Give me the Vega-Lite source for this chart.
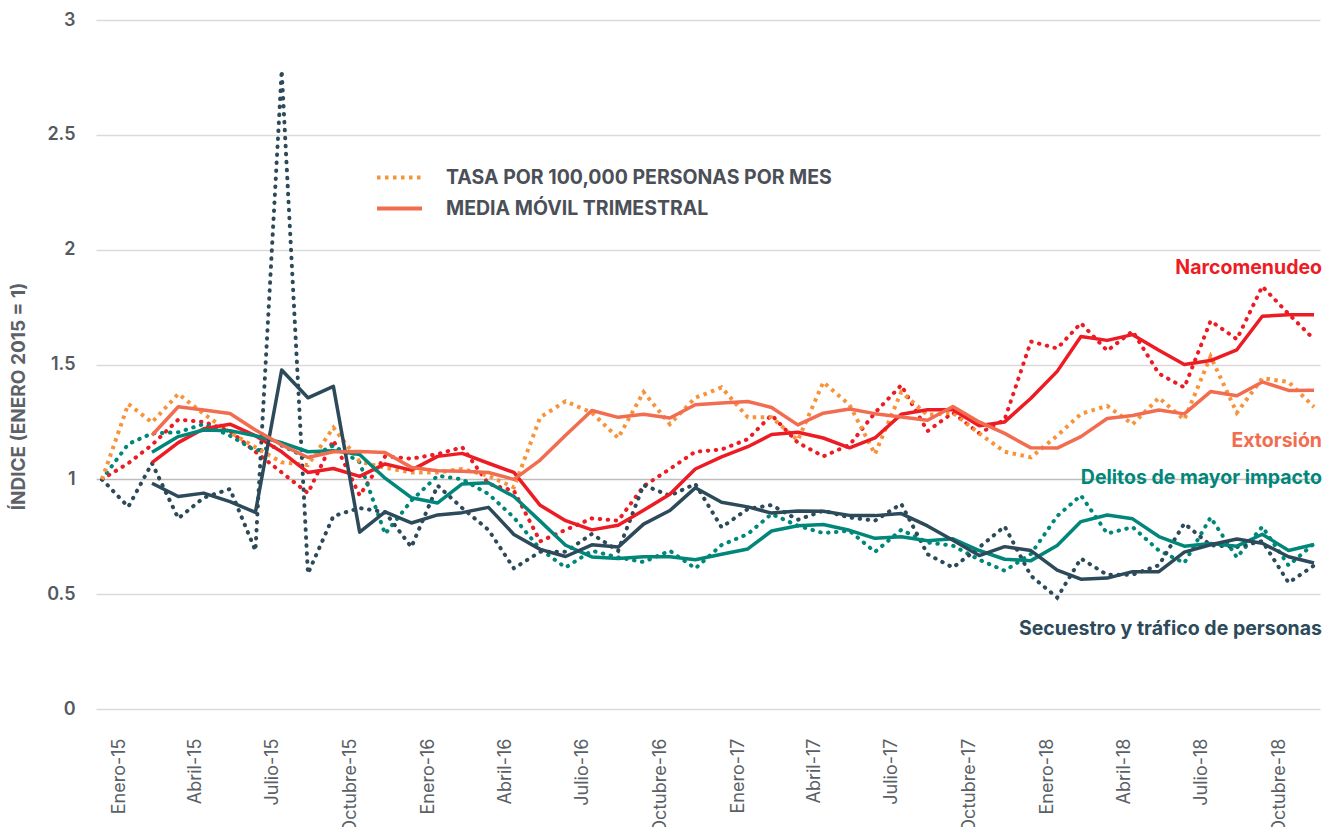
{
"$schema": "https://vega.github.io/schema/vega-lite/v6.json",
"width": 1224,
"height": 689,
"autosize": {"type": "none"},
"padding": {"left": 96, "top": 20, "right": 9, "bottom": 118},
"background": "#ffffff",
"config": {"view": {"stroke": null}, "font": "Inter"},
"datasets": {
"datos": [
{"mes":"2015-01","serie":"Narcomenudeo","tipo":"tasa","valor":1},
{"mes":"2015-02","serie":"Narcomenudeo","tipo":"tasa","valor":1.07},
{"mes":"2015-03","serie":"Narcomenudeo","tipo":"tasa","valor":1.15},
{"mes":"2015-04","serie":"Narcomenudeo","tipo":"tasa","valor":1.26},
{"mes":"2015-05","serie":"Narcomenudeo","tipo":"tasa","valor":1.25},
{"mes":"2015-06","serie":"Narcomenudeo","tipo":"tasa","valor":1.21},
{"mes":"2015-07","serie":"Narcomenudeo","tipo":"tasa","valor":1.12},
{"mes":"2015-08","serie":"Narcomenudeo","tipo":"tasa","valor":1.03},
{"mes":"2015-09","serie":"Narcomenudeo","tipo":"tasa","valor":0.94},
{"mes":"2015-10","serie":"Narcomenudeo","tipo":"tasa","valor":1.17},
{"mes":"2015-11","serie":"Narcomenudeo","tipo":"tasa","valor":0.93},
{"mes":"2015-12","serie":"Narcomenudeo","tipo":"tasa","valor":1.10},
{"mes":"2016-01","serie":"Narcomenudeo","tipo":"tasa","valor":1.09},
{"mes":"2016-02","serie":"Narcomenudeo","tipo":"tasa","valor":1.11},
{"mes":"2016-03","serie":"Narcomenudeo","tipo":"tasa","valor":1.14},
{"mes":"2016-04","serie":"Narcomenudeo","tipo":"tasa","valor":0.98},
{"mes":"2016-05","serie":"Narcomenudeo","tipo":"tasa","valor":0.95},
{"mes":"2016-06","serie":"Narcomenudeo","tipo":"tasa","valor":0.73},
{"mes":"2016-07","serie":"Narcomenudeo","tipo":"tasa","valor":0.78},
{"mes":"2016-08","serie":"Narcomenudeo","tipo":"tasa","valor":0.83},
{"mes":"2016-09","serie":"Narcomenudeo","tipo":"tasa","valor":0.82},
{"mes":"2016-10","serie":"Narcomenudeo","tipo":"tasa","valor":0.97},
{"mes":"2016-11","serie":"Narcomenudeo","tipo":"tasa","valor":1.045},
{"mes":"2016-12","serie":"Narcomenudeo","tipo":"tasa","valor":1.12},
{"mes":"2017-01","serie":"Narcomenudeo","tipo":"tasa","valor":1.13},
{"mes":"2017-02","serie":"Narcomenudeo","tipo":"tasa","valor":1.175},
{"mes":"2017-03","serie":"Narcomenudeo","tipo":"tasa","valor":1.28},
{"mes":"2017-04","serie":"Narcomenudeo","tipo":"tasa","valor":1.16},
{"mes":"2017-05","serie":"Narcomenudeo","tipo":"tasa","valor":1.10},
{"mes":"2017-06","serie":"Narcomenudeo","tipo":"tasa","valor":1.15},
{"mes":"2017-07","serie":"Narcomenudeo","tipo":"tasa","valor":1.29},
{"mes":"2017-08","serie":"Narcomenudeo","tipo":"tasa","valor":1.41},
{"mes":"2017-09","serie":"Narcomenudeo","tipo":"tasa","valor":1.21},
{"mes":"2017-10","serie":"Narcomenudeo","tipo":"tasa","valor":1.29},
{"mes":"2017-11","serie":"Narcomenudeo","tipo":"tasa","valor":1.20},
{"mes":"2017-12","serie":"Narcomenudeo","tipo":"tasa","valor":1.26},
{"mes":"2018-01","serie":"Narcomenudeo","tipo":"tasa","valor":1.60},
{"mes":"2018-02","serie":"Narcomenudeo","tipo":"tasa","valor":1.57},
{"mes":"2018-03","serie":"Narcomenudeo","tipo":"tasa","valor":1.68},
{"mes":"2018-04","serie":"Narcomenudeo","tipo":"tasa","valor":1.56},
{"mes":"2018-05","serie":"Narcomenudeo","tipo":"tasa","valor":1.645},
{"mes":"2018-06","serie":"Narcomenudeo","tipo":"tasa","valor":1.46},
{"mes":"2018-07","serie":"Narcomenudeo","tipo":"tasa","valor":1.40},
{"mes":"2018-08","serie":"Narcomenudeo","tipo":"tasa","valor":1.69},
{"mes":"2018-09","serie":"Narcomenudeo","tipo":"tasa","valor":1.61},
{"mes":"2018-10","serie":"Narcomenudeo","tipo":"tasa","valor":1.84},
{"mes":"2018-11","serie":"Narcomenudeo","tipo":"tasa","valor":1.72},
{"mes":"2018-12","serie":"Narcomenudeo","tipo":"tasa","valor":1.61},
{"mes":"2015-03","serie":"Narcomenudeo","tipo":"media","valor":1.073},
{"mes":"2015-04","serie":"Narcomenudeo","tipo":"media","valor":1.16},
{"mes":"2015-05","serie":"Narcomenudeo","tipo":"media","valor":1.22},
{"mes":"2015-06","serie":"Narcomenudeo","tipo":"media","valor":1.24},
{"mes":"2015-07","serie":"Narcomenudeo","tipo":"media","valor":1.19},
{"mes":"2015-08","serie":"Narcomenudeo","tipo":"media","valor":1.12},
{"mes":"2015-09","serie":"Narcomenudeo","tipo":"media","valor":1.03},
{"mes":"2015-10","serie":"Narcomenudeo","tipo":"media","valor":1.047},
{"mes":"2015-11","serie":"Narcomenudeo","tipo":"media","valor":1.013},
{"mes":"2015-12","serie":"Narcomenudeo","tipo":"media","valor":1.067},
{"mes":"2016-01","serie":"Narcomenudeo","tipo":"media","valor":1.04},
{"mes":"2016-02","serie":"Narcomenudeo","tipo":"media","valor":1.10},
{"mes":"2016-03","serie":"Narcomenudeo","tipo":"media","valor":1.113},
{"mes":"2016-04","serie":"Narcomenudeo","tipo":"media","valor":1.07},
{"mes":"2016-05","serie":"Narcomenudeo","tipo":"media","valor":1.03},
{"mes":"2016-06","serie":"Narcomenudeo","tipo":"media","valor":0.887},
{"mes":"2016-07","serie":"Narcomenudeo","tipo":"media","valor":0.82},
{"mes":"2016-08","serie":"Narcomenudeo","tipo":"media","valor":0.78},
{"mes":"2016-09","serie":"Narcomenudeo","tipo":"media","valor":0.80},
{"mes":"2016-10","serie":"Narcomenudeo","tipo":"media","valor":0.865},
{"mes":"2016-11","serie":"Narcomenudeo","tipo":"media","valor":0.935},
{"mes":"2016-12","serie":"Narcomenudeo","tipo":"media","valor":1.045},
{"mes":"2017-01","serie":"Narcomenudeo","tipo":"media","valor":1.098},
{"mes":"2017-02","serie":"Narcomenudeo","tipo":"media","valor":1.142},
{"mes":"2017-03","serie":"Narcomenudeo","tipo":"media","valor":1.195},
{"mes":"2017-04","serie":"Narcomenudeo","tipo":"media","valor":1.205},
{"mes":"2017-05","serie":"Narcomenudeo","tipo":"media","valor":1.18},
{"mes":"2017-06","serie":"Narcomenudeo","tipo":"media","valor":1.137},
{"mes":"2017-07","serie":"Narcomenudeo","tipo":"media","valor":1.18},
{"mes":"2017-08","serie":"Narcomenudeo","tipo":"media","valor":1.283},
{"mes":"2017-09","serie":"Narcomenudeo","tipo":"media","valor":1.303},
{"mes":"2017-10","serie":"Narcomenudeo","tipo":"media","valor":1.303},
{"mes":"2017-11","serie":"Narcomenudeo","tipo":"media","valor":1.233},
{"mes":"2017-12","serie":"Narcomenudeo","tipo":"media","valor":1.25},
{"mes":"2018-01","serie":"Narcomenudeo","tipo":"media","valor":1.353},
{"mes":"2018-02","serie":"Narcomenudeo","tipo":"media","valor":1.47},
{"mes":"2018-03","serie":"Narcomenudeo","tipo":"media","valor":1.622},
{"mes":"2018-04","serie":"Narcomenudeo","tipo":"media","valor":1.605},
{"mes":"2018-05","serie":"Narcomenudeo","tipo":"media","valor":1.63},
{"mes":"2018-06","serie":"Narcomenudeo","tipo":"media","valor":1.562},
{"mes":"2018-07","serie":"Narcomenudeo","tipo":"media","valor":1.50},
{"mes":"2018-08","serie":"Narcomenudeo","tipo":"media","valor":1.517},
{"mes":"2018-09","serie":"Narcomenudeo","tipo":"media","valor":1.564},
{"mes":"2018-10","serie":"Narcomenudeo","tipo":"media","valor":1.71},
{"mes":"2018-11","serie":"Narcomenudeo","tipo":"media","valor":1.717},
{"mes":"2018-12","serie":"Narcomenudeo","tipo":"media","valor":1.717},
{"mes":"2015-01","serie":"Extorsión","tipo":"tasa","valor":1},
{"mes":"2015-02","serie":"Extorsión","tipo":"tasa","valor":1.328},
{"mes":"2015-03","serie":"Extorsión","tipo":"tasa","valor":1.248},
{"mes":"2015-04","serie":"Extorsión","tipo":"tasa","valor":1.372},
{"mes":"2015-05","serie":"Extorsión","tipo":"tasa","valor":1.285},
{"mes":"2015-06","serie":"Extorsión","tipo":"tasa","valor":1.205},
{"mes":"2015-07","serie":"Extorsión","tipo":"tasa","valor":1.14},
{"mes":"2015-08","serie":"Extorsión","tipo":"tasa","valor":1.074},
{"mes":"2015-09","serie":"Extorsión","tipo":"tasa","valor":1.062},
{"mes":"2015-10","serie":"Extorsión","tipo":"tasa","valor":1.225},
{"mes":"2015-11","serie":"Extorsión","tipo":"tasa","valor":1.077},
{"mes":"2015-12","serie":"Extorsión","tipo":"tasa","valor":1.05},
{"mes":"2016-01","serie":"Extorsión","tipo":"tasa","valor":1.03},
{"mes":"2016-02","serie":"Extorsión","tipo":"tasa","valor":1.03},
{"mes":"2016-03","serie":"Extorsión","tipo":"tasa","valor":1.045},
{"mes":"2016-04","serie":"Extorsión","tipo":"tasa","valor":1.016},
{"mes":"2016-05","serie":"Extorsión","tipo":"tasa","valor":0.965},
{"mes":"2016-06","serie":"Extorsión","tipo":"tasa","valor":1.27},
{"mes":"2016-07","serie":"Extorsión","tipo":"tasa","valor":1.34},
{"mes":"2016-08","serie":"Extorsión","tipo":"tasa","valor":1.29},
{"mes":"2016-09","serie":"Extorsión","tipo":"tasa","valor":1.18},
{"mes":"2016-10","serie":"Extorsión","tipo":"tasa","valor":1.38},
{"mes":"2016-11","serie":"Extorsión","tipo":"tasa","valor":1.24},
{"mes":"2016-12","serie":"Extorsión","tipo":"tasa","valor":1.355},
{"mes":"2017-01","serie":"Extorsión","tipo":"tasa","valor":1.40},
{"mes":"2017-02","serie":"Extorsión","tipo":"tasa","valor":1.27},
{"mes":"2017-03","serie":"Extorsión","tipo":"tasa","valor":1.27},
{"mes":"2017-04","serie":"Extorsión","tipo":"tasa","valor":1.17},
{"mes":"2017-05","serie":"Extorsión","tipo":"tasa","valor":1.423},
{"mes":"2017-06","serie":"Extorsión","tipo":"tasa","valor":1.324},
{"mes":"2017-07","serie":"Extorsión","tipo":"tasa","valor":1.11},
{"mes":"2017-08","serie":"Extorsión","tipo":"tasa","valor":1.38},
{"mes":"2017-09","serie":"Extorsión","tipo":"tasa","valor":1.28},
{"mes":"2017-10","serie":"Extorsión","tipo":"tasa","valor":1.29},
{"mes":"2017-11","serie":"Extorsión","tipo":"tasa","valor":1.20},
{"mes":"2017-12","serie":"Extorsión","tipo":"tasa","valor":1.12},
{"mes":"2018-01","serie":"Extorsión","tipo":"tasa","valor":1.096},
{"mes":"2018-02","serie":"Extorsión","tipo":"tasa","valor":1.19},
{"mes":"2018-03","serie":"Extorsión","tipo":"tasa","valor":1.285},
{"mes":"2018-04","serie":"Extorsión","tipo":"tasa","valor":1.32},
{"mes":"2018-05","serie":"Extorsión","tipo":"tasa","valor":1.24},
{"mes":"2018-06","serie":"Extorsión","tipo":"tasa","valor":1.355},
{"mes":"2018-07","serie":"Extorsión","tipo":"tasa","valor":1.26},
{"mes":"2018-08","serie":"Extorsión","tipo":"tasa","valor":1.535},
{"mes":"2018-09","serie":"Extorsión","tipo":"tasa","valor":1.29},
{"mes":"2018-10","serie":"Extorsión","tipo":"tasa","valor":1.44},
{"mes":"2018-11","serie":"Extorsión","tipo":"tasa","valor":1.424},
{"mes":"2018-12","serie":"Extorsión","tipo":"tasa","valor":1.315},
{"mes":"2015-03","serie":"Extorsión","tipo":"media","valor":1.192},
{"mes":"2015-04","serie":"Extorsión","tipo":"media","valor":1.316},
{"mes":"2015-05","serie":"Extorsión","tipo":"media","valor":1.302},
{"mes":"2015-06","serie":"Extorsión","tipo":"media","valor":1.287},
{"mes":"2015-07","serie":"Extorsión","tipo":"media","valor":1.215},
{"mes":"2015-08","serie":"Extorsión","tipo":"media","valor":1.15},
{"mes":"2015-09","serie":"Extorsión","tipo":"media","valor":1.095},
{"mes":"2015-10","serie":"Extorsión","tipo":"media","valor":1.12},
{"mes":"2015-11","serie":"Extorsión","tipo":"media","valor":1.121},
{"mes":"2015-12","serie":"Extorsión","tipo":"media","valor":1.117},
{"mes":"2016-01","serie":"Extorsión","tipo":"media","valor":1.052},
{"mes":"2016-02","serie":"Extorsión","tipo":"media","valor":1.037},
{"mes":"2016-03","serie":"Extorsión","tipo":"media","valor":1.035},
{"mes":"2016-04","serie":"Extorsión","tipo":"media","valor":1.03},
{"mes":"2016-05","serie":"Extorsión","tipo":"media","valor":1.0},
{"mes":"2016-06","serie":"Extorsión","tipo":"media","valor":1.084},
{"mes":"2016-07","serie":"Extorsión","tipo":"media","valor":1.192},
{"mes":"2016-08","serie":"Extorsión","tipo":"media","valor":1.30},
{"mes":"2016-09","serie":"Extorsión","tipo":"media","valor":1.27},
{"mes":"2016-10","serie":"Extorsión","tipo":"media","valor":1.283},
{"mes":"2016-11","serie":"Extorsión","tipo":"media","valor":1.267},
{"mes":"2016-12","serie":"Extorsión","tipo":"media","valor":1.325},
{"mes":"2017-01","serie":"Extorsión","tipo":"media","valor":1.332},
{"mes":"2017-02","serie":"Extorsión","tipo":"media","valor":1.339},
{"mes":"2017-03","serie":"Extorsión","tipo":"media","valor":1.313},
{"mes":"2017-04","serie":"Extorsión","tipo":"media","valor":1.237},
{"mes":"2017-05","serie":"Extorsión","tipo":"media","valor":1.288},
{"mes":"2017-06","serie":"Extorsión","tipo":"media","valor":1.306},
{"mes":"2017-07","serie":"Extorsión","tipo":"media","valor":1.286},
{"mes":"2017-08","serie":"Extorsión","tipo":"media","valor":1.271},
{"mes":"2017-09","serie":"Extorsión","tipo":"media","valor":1.257},
{"mes":"2017-10","serie":"Extorsión","tipo":"media","valor":1.317},
{"mes":"2017-11","serie":"Extorsión","tipo":"media","valor":1.25},
{"mes":"2017-12","serie":"Extorsión","tipo":"media","valor":1.2},
{"mes":"2018-01","serie":"Extorsión","tipo":"media","valor":1.137},
{"mes":"2018-02","serie":"Extorsión","tipo":"media","valor":1.136},
{"mes":"2018-03","serie":"Extorsión","tipo":"media","valor":1.186},
{"mes":"2018-04","serie":"Extorsión","tipo":"media","valor":1.265},
{"mes":"2018-05","serie":"Extorsión","tipo":"media","valor":1.278},
{"mes":"2018-06","serie":"Extorsión","tipo":"media","valor":1.302},
{"mes":"2018-07","serie":"Extorsión","tipo":"media","valor":1.285},
{"mes":"2018-08","serie":"Extorsión","tipo":"media","valor":1.382},
{"mes":"2018-09","serie":"Extorsión","tipo":"media","valor":1.364},
{"mes":"2018-10","serie":"Extorsión","tipo":"media","valor":1.424},
{"mes":"2018-11","serie":"Extorsión","tipo":"media","valor":1.387},
{"mes":"2018-12","serie":"Extorsión","tipo":"media","valor":1.388},
{"mes":"2015-01","serie":"Delitos","tipo":"tasa","valor":1},
{"mes":"2015-02","serie":"Delitos","tipo":"tasa","valor":1.154},
{"mes":"2015-03","serie":"Delitos","tipo":"tasa","valor":1.20},
{"mes":"2015-04","serie":"Delitos","tipo":"tasa","valor":1.205},
{"mes":"2015-05","serie":"Delitos","tipo":"tasa","valor":1.241},
{"mes":"2015-06","serie":"Delitos","tipo":"tasa","valor":1.19},
{"mes":"2015-07","serie":"Delitos","tipo":"tasa","valor":1.125},
{"mes":"2015-08","serie":"Delitos","tipo":"tasa","valor":1.147},
{"mes":"2015-09","serie":"Delitos","tipo":"tasa","valor":1.092},
{"mes":"2015-10","serie":"Delitos","tipo":"tasa","valor":1.147},
{"mes":"2015-11","serie":"Delitos","tipo":"tasa","valor":1.074},
{"mes":"2015-12","serie":"Delitos","tipo":"tasa","valor":0.762},
{"mes":"2016-01","serie":"Delitos","tipo":"tasa","valor":0.907},
{"mes":"2016-02","serie":"Delitos","tipo":"tasa","valor":1.016},
{"mes":"2016-03","serie":"Delitos","tipo":"tasa","valor":1.0},
{"mes":"2016-04","serie":"Delitos","tipo":"tasa","valor":0.936},
{"mes":"2016-05","serie":"Delitos","tipo":"tasa","valor":0.834},
{"mes":"2016-06","serie":"Delitos","tipo":"tasa","valor":0.696},
{"mes":"2016-07","serie":"Delitos","tipo":"tasa","valor":0.616},
{"mes":"2016-08","serie":"Delitos","tipo":"tasa","valor":0.689},
{"mes":"2016-09","serie":"Delitos","tipo":"tasa","valor":0.66},
{"mes":"2016-10","serie":"Delitos","tipo":"tasa","valor":0.64},
{"mes":"2016-11","serie":"Delitos","tipo":"tasa","valor":0.689},
{"mes":"2016-12","serie":"Delitos","tipo":"tasa","valor":0.612},
{"mes":"2017-01","serie":"Delitos","tipo":"tasa","valor":0.714},
{"mes":"2017-02","serie":"Delitos","tipo":"tasa","valor":0.762},
{"mes":"2017-03","serie":"Delitos","tipo":"tasa","valor":0.849},
{"mes":"2017-04","serie":"Delitos","tipo":"tasa","valor":0.798},
{"mes":"2017-05","serie":"Delitos","tipo":"tasa","valor":0.766},
{"mes":"2017-06","serie":"Delitos","tipo":"tasa","valor":0.776},
{"mes":"2017-07","serie":"Delitos","tipo":"tasa","valor":0.684},
{"mes":"2017-08","serie":"Delitos","tipo":"tasa","valor":0.78},
{"mes":"2017-09","serie":"Delitos","tipo":"tasa","valor":0.725},
{"mes":"2017-10","serie":"Delitos","tipo":"tasa","valor":0.711},
{"mes":"2017-11","serie":"Delitos","tipo":"tasa","valor":0.65},
{"mes":"2017-12","serie":"Delitos","tipo":"tasa","valor":0.602},
{"mes":"2018-01","serie":"Delitos","tipo":"tasa","valor":0.675},
{"mes":"2018-02","serie":"Delitos","tipo":"tasa","valor":0.84},
{"mes":"2018-03","serie":"Delitos","tipo":"tasa","valor":0.93},
{"mes":"2018-04","serie":"Delitos","tipo":"tasa","valor":0.764},
{"mes":"2018-05","serie":"Delitos","tipo":"tasa","valor":0.792},
{"mes":"2018-06","serie":"Delitos","tipo":"tasa","valor":0.69},
{"mes":"2018-07","serie":"Delitos","tipo":"tasa","valor":0.636},
{"mes":"2018-08","serie":"Delitos","tipo":"tasa","valor":0.834},
{"mes":"2018-09","serie":"Delitos","tipo":"tasa","valor":0.66},
{"mes":"2018-10","serie":"Delitos","tipo":"tasa","valor":0.794},
{"mes":"2018-11","serie":"Delitos","tipo":"tasa","valor":0.625},
{"mes":"2018-12","serie":"Delitos","tipo":"tasa","valor":0.72},
{"mes":"2015-03","serie":"Delitos","tipo":"media","valor":1.118},
{"mes":"2015-04","serie":"Delitos","tipo":"media","valor":1.186},
{"mes":"2015-05","serie":"Delitos","tipo":"media","valor":1.215},
{"mes":"2015-06","serie":"Delitos","tipo":"media","valor":1.212},
{"mes":"2015-07","serie":"Delitos","tipo":"media","valor":1.19},
{"mes":"2015-08","serie":"Delitos","tipo":"media","valor":1.16},
{"mes":"2015-09","serie":"Delitos","tipo":"media","valor":1.12},
{"mes":"2015-10","serie":"Delitos","tipo":"media","valor":1.125},
{"mes":"2015-11","serie":"Delitos","tipo":"media","valor":1.108},
{"mes":"2015-12","serie":"Delitos","tipo":"media","valor":1.005},
{"mes":"2016-01","serie":"Delitos","tipo":"media","valor":0.92},
{"mes":"2016-02","serie":"Delitos","tipo":"media","valor":0.897},
{"mes":"2016-03","serie":"Delitos","tipo":"media","valor":0.98},
{"mes":"2016-04","serie":"Delitos","tipo":"media","valor":0.985},
{"mes":"2016-05","serie":"Delitos","tipo":"media","valor":0.925},
{"mes":"2016-06","serie":"Delitos","tipo":"media","valor":0.818},
{"mes":"2016-07","serie":"Delitos","tipo":"media","valor":0.713},
{"mes":"2016-08","serie":"Delitos","tipo":"media","valor":0.662},
{"mes":"2016-09","serie":"Delitos","tipo":"media","valor":0.655},
{"mes":"2016-10","serie":"Delitos","tipo":"media","valor":0.663},
{"mes":"2016-11","serie":"Delitos","tipo":"media","valor":0.663},
{"mes":"2016-12","serie":"Delitos","tipo":"media","valor":0.65},
{"mes":"2017-01","serie":"Delitos","tipo":"media","valor":0.674},
{"mes":"2017-02","serie":"Delitos","tipo":"media","valor":0.697},
{"mes":"2017-03","serie":"Delitos","tipo":"media","valor":0.775},
{"mes":"2017-04","serie":"Delitos","tipo":"media","valor":0.798},
{"mes":"2017-05","serie":"Delitos","tipo":"media","valor":0.803},
{"mes":"2017-06","serie":"Delitos","tipo":"media","valor":0.778},
{"mes":"2017-07","serie":"Delitos","tipo":"media","valor":0.743},
{"mes":"2017-08","serie":"Delitos","tipo":"media","valor":0.75},
{"mes":"2017-09","serie":"Delitos","tipo":"media","valor":0.733},
{"mes":"2017-10","serie":"Delitos","tipo":"media","valor":0.741},
{"mes":"2017-11","serie":"Delitos","tipo":"media","valor":0.69},
{"mes":"2017-12","serie":"Delitos","tipo":"media","valor":0.652},
{"mes":"2018-01","serie":"Delitos","tipo":"media","valor":0.646},
{"mes":"2018-02","serie":"Delitos","tipo":"media","valor":0.712},
{"mes":"2018-03","serie":"Delitos","tipo":"media","valor":0.816},
{"mes":"2018-04","serie":"Delitos","tipo":"media","valor":0.845},
{"mes":"2018-05","serie":"Delitos","tipo":"media","valor":0.828},
{"mes":"2018-06","serie":"Delitos","tipo":"media","valor":0.751},
{"mes":"2018-07","serie":"Delitos","tipo":"media","valor":0.709},
{"mes":"2018-08","serie":"Delitos","tipo":"media","valor":0.721},
{"mes":"2018-09","serie":"Delitos","tipo":"media","valor":0.709},
{"mes":"2018-10","serie":"Delitos","tipo":"media","valor":0.761},
{"mes":"2018-11","serie":"Delitos","tipo":"media","valor":0.69},
{"mes":"2018-12","serie":"Delitos","tipo":"media","valor":0.716},
{"mes":"2015-01","serie":"Secuestro","tipo":"tasa","valor":1},
{"mes":"2015-02","serie":"Secuestro","tipo":"tasa","valor":0.88},
{"mes":"2015-03","serie":"Secuestro","tipo":"tasa","valor":1.07},
{"mes":"2015-04","serie":"Secuestro","tipo":"tasa","valor":0.83},
{"mes":"2015-05","serie":"Secuestro","tipo":"tasa","valor":0.92},
{"mes":"2015-06","serie":"Secuestro","tipo":"tasa","valor":0.958},
{"mes":"2015-07","serie":"Secuestro","tipo":"tasa","valor":0.69},
{"mes":"2015-08","serie":"Secuestro","tipo":"tasa","valor":2.78},
{"mes":"2015-09","serie":"Secuestro","tipo":"tasa","valor":0.59},
{"mes":"2015-10","serie":"Secuestro","tipo":"tasa","valor":0.84},
{"mes":"2015-11","serie":"Secuestro","tipo":"tasa","valor":0.875},
{"mes":"2015-12","serie":"Secuestro","tipo":"tasa","valor":0.857},
{"mes":"2016-01","serie":"Secuestro","tipo":"tasa","valor":0.705},
{"mes":"2016-02","serie":"Secuestro","tipo":"tasa","valor":0.973},
{"mes":"2016-03","serie":"Secuestro","tipo":"tasa","valor":0.875},
{"mes":"2016-04","serie":"Secuestro","tipo":"tasa","valor":0.78},
{"mes":"2016-05","serie":"Secuestro","tipo":"tasa","valor":0.612},
{"mes":"2016-06","serie":"Secuestro","tipo":"tasa","valor":0.685},
{"mes":"2016-07","serie":"Secuestro","tipo":"tasa","valor":0.685},
{"mes":"2016-08","serie":"Secuestro","tipo":"tasa","valor":0.762},
{"mes":"2016-09","serie":"Secuestro","tipo":"tasa","valor":0.689},
{"mes":"2016-10","serie":"Secuestro","tipo":"tasa","valor":0.975},
{"mes":"2016-11","serie":"Secuestro","tipo":"tasa","valor":0.929},
{"mes":"2016-12","serie":"Secuestro","tipo":"tasa","valor":0.98},
{"mes":"2017-01","serie":"Secuestro","tipo":"tasa","valor":0.791},
{"mes":"2017-02","serie":"Secuestro","tipo":"tasa","valor":0.871},
{"mes":"2017-03","serie":"Secuestro","tipo":"tasa","valor":0.888},
{"mes":"2017-04","serie":"Secuestro","tipo":"tasa","valor":0.824},
{"mes":"2017-05","serie":"Secuestro","tipo":"tasa","valor":0.863},
{"mes":"2017-06","serie":"Secuestro","tipo":"tasa","valor":0.834},
{"mes":"2017-07","serie":"Secuestro","tipo":"tasa","valor":0.82},
{"mes":"2017-08","serie":"Secuestro","tipo":"tasa","valor":0.893},
{"mes":"2017-09","serie":"Secuestro","tipo":"tasa","valor":0.674},
{"mes":"2017-10","serie":"Secuestro","tipo":"tasa","valor":0.616},
{"mes":"2017-11","serie":"Secuestro","tipo":"tasa","valor":0.704},
{"mes":"2017-12","serie":"Secuestro","tipo":"tasa","valor":0.795},
{"mes":"2018-01","serie":"Secuestro","tipo":"tasa","valor":0.58},
{"mes":"2018-02","serie":"Secuestro","tipo":"tasa","valor":0.485},
{"mes":"2018-03","serie":"Secuestro","tipo":"tasa","valor":0.655},
{"mes":"2018-04","serie":"Secuestro","tipo":"tasa","valor":0.584},
{"mes":"2018-05","serie":"Secuestro","tipo":"tasa","valor":0.585},
{"mes":"2018-06","serie":"Secuestro","tipo":"tasa","valor":0.626},
{"mes":"2018-07","serie":"Secuestro","tipo":"tasa","valor":0.808},
{"mes":"2018-08","serie":"Secuestro","tipo":"tasa","valor":0.713},
{"mes":"2018-09","serie":"Secuestro","tipo":"tasa","valor":0.705},
{"mes":"2018-10","serie":"Secuestro","tipo":"tasa","valor":0.731},
{"mes":"2018-11","serie":"Secuestro","tipo":"tasa","valor":0.55},
{"mes":"2018-12","serie":"Secuestro","tipo":"tasa","valor":0.625},
{"mes":"2015-03","serie":"Secuestro","tipo":"media","valor":0.983},
{"mes":"2015-04","serie":"Secuestro","tipo":"media","valor":0.925},
{"mes":"2015-05","serie":"Secuestro","tipo":"media","valor":0.94},
{"mes":"2015-06","serie":"Secuestro","tipo":"media","valor":0.903},
{"mes":"2015-07","serie":"Secuestro","tipo":"media","valor":0.856},
{"mes":"2015-08","serie":"Secuestro","tipo":"media","valor":1.476},
{"mes":"2015-09","serie":"Secuestro","tipo":"media","valor":1.355},
{"mes":"2015-10","serie":"Secuestro","tipo":"media","valor":1.405},
{"mes":"2015-11","serie":"Secuestro","tipo":"media","valor":0.77},
{"mes":"2015-12","serie":"Secuestro","tipo":"media","valor":0.858},
{"mes":"2016-01","serie":"Secuestro","tipo":"media","valor":0.81},
{"mes":"2016-02","serie":"Secuestro","tipo":"media","valor":0.845},
{"mes":"2016-03","serie":"Secuestro","tipo":"media","valor":0.855},
{"mes":"2016-04","serie":"Secuestro","tipo":"media","valor":0.878},
{"mes":"2016-05","serie":"Secuestro","tipo":"media","valor":0.76},
{"mes":"2016-06","serie":"Secuestro","tipo":"media","valor":0.695},
{"mes":"2016-07","serie":"Secuestro","tipo":"media","valor":0.664},
{"mes":"2016-08","serie":"Secuestro","tipo":"media","valor":0.715},
{"mes":"2016-09","serie":"Secuestro","tipo":"media","valor":0.705},
{"mes":"2016-10","serie":"Secuestro","tipo":"media","valor":0.805},
{"mes":"2016-11","serie":"Secuestro","tipo":"media","valor":0.864},
{"mes":"2016-12","serie":"Secuestro","tipo":"media","valor":0.963},
{"mes":"2017-01","serie":"Secuestro","tipo":"media","valor":0.90},
{"mes":"2017-02","serie":"Secuestro","tipo":"media","valor":0.88},
{"mes":"2017-03","serie":"Secuestro","tipo":"media","valor":0.853},
{"mes":"2017-04","serie":"Secuestro","tipo":"media","valor":0.862},
{"mes":"2017-05","serie":"Secuestro","tipo":"media","valor":0.861},
{"mes":"2017-06","serie":"Secuestro","tipo":"media","valor":0.843},
{"mes":"2017-07","serie":"Secuestro","tipo":"media","valor":0.842},
{"mes":"2017-08","serie":"Secuestro","tipo":"media","valor":0.851},
{"mes":"2017-09","serie":"Secuestro","tipo":"media","valor":0.797},
{"mes":"2017-10","serie":"Secuestro","tipo":"media","valor":0.735},
{"mes":"2017-11","serie":"Secuestro","tipo":"media","valor":0.668},
{"mes":"2017-12","serie":"Secuestro","tipo":"media","valor":0.707},
{"mes":"2018-01","serie":"Secuestro","tipo":"media","valor":0.69},
{"mes":"2018-02","serie":"Secuestro","tipo":"media","valor":0.605},
{"mes":"2018-03","serie":"Secuestro","tipo":"media","valor":0.565},
{"mes":"2018-04","serie":"Secuestro","tipo":"media","valor":0.57},
{"mes":"2018-05","serie":"Secuestro","tipo":"media","valor":0.598},
{"mes":"2018-06","serie":"Secuestro","tipo":"media","valor":0.598},
{"mes":"2018-07","serie":"Secuestro","tipo":"media","valor":0.683},
{"mes":"2018-08","serie":"Secuestro","tipo":"media","valor":0.715},
{"mes":"2018-09","serie":"Secuestro","tipo":"media","valor":0.74},
{"mes":"2018-10","serie":"Secuestro","tipo":"media","valor":0.722},
{"mes":"2018-11","serie":"Secuestro","tipo":"media","valor":0.663},
{"mes":"2018-12","serie":"Secuestro","tipo":"media","valor":0.636}
],
"etiquetas": [
{"mes":"2018-12","serie":"Narcomenudeo","texto":"Narcomenudeo","valor":1.93},
{"mes":"2018-12","serie":"Extorsión","texto":"Extorsión","valor":1.175},
{"mes":"2018-12","serie":"Delitos","texto":"Delitos de mayor impacto","valor":1.014},
{"mes":"2018-12","serie":"Secuestro","texto":"Secuestro y tráfico de personas","valor":0.356}
]
},
"encoding": {
"x": {"field": "mes", "type": "temporal", "scale": {"padding": 6, "nice": false},
 "axis": {"title": null, "domain": false, "ticks": false, "tickSize": 0, "grid": false,
  "tickCount": {"interval": "month", "step": 3},
  "labelExpr": "['Enero','Febrero','Marzo','Abril','Mayo','Junio','Julio','Agosto','Septiembre','Octubre','Noviembre','Diciembre'][month(datum.value)] + '-' + timeFormat(datum.value, '%y')",
  "labelAngle": -90, "labelAlign": "right", "labelBaseline": "middle", "labelPadding": 29, "labelOffset": 17,
  "labelFont": "Inter", "labelFontSize": 18, "labelColor": "#5b5f66", "labelOverlap": false, "labelFlush": false, "labelBound": false}},
"y": {"field": "valor", "type": "quantitative", "scale": {"domain": [0, 3], "nice": false},
 "axis": {"title": "ÍNDICE (ENERO 2015 = 1)", "values": [0, 0.5, 1, 1.5, 2, 2.5, 3], "format": "~g",
  "domain": false, "ticks": false, "tickSize": 0, "labelPadding": 21,
  "labelFont": "Inter", "labelFontSize": 18, "labelFontWeight": 600, "labelColor": "#555a61",
  "gridColor": {"condition": {"test": "datum.value === 1", "value": "#bdbdbd"}, "value": "#dadada"},
  "gridWidth": 1.5,
  "titleFont": "Inter", "titleFontSize": 19, "titleFontWeight": "bold", "titleColor": "#5d6168",
  "titleAngle": -90, "titleX": -78, "titleY": 376, "titleAlign": "center", "titleBaseline": "middle"}}
},
"layer": [
{"data": {"name": "datos"},
 "transform": [{"filter": "datum.tipo === 'tasa' && datum.serie !== 'Extorsión'"}],
 "mark": {"type": "line", "strokeWidth": 4, "strokeCap": "round", "strokeDash": [0.5, 7.5]},
 "encoding": {"color": {"field": "serie", "type": "nominal",
  "scale": {"domain": ["Narcomenudeo", "Delitos", "Secuestro"], "range": ["#ed1c24", "#00877a", "#2c4a5a"]}, "legend": null}}},
{"data": {"name": "datos"},
 "transform": [{"filter": "datum.tipo === 'tasa' && datum.serie === 'Extorsión'"}],
 "mark": {"type": "line", "strokeWidth": 4, "strokeCap": "butt"},
 "encoding": {
  "color": {"field": "tipo", "type": "nominal",
   "scale": {"domain": ["tasa", "media"], "range": ["#f7943a", "#f26c4f"]},
   "legend": {"title": null, "orient": "none", "legendX": 279, "legendY": 142, "direction": "vertical",
    "symbolType": "stroke", "symbolSize": 2025, "symbolStrokeWidth": 4, "clipHeight": 31, "rowPadding": 0,
    "labelOffset": 22, "labelFont": "Inter", "labelFontSize": 19.5, "labelFontWeight": "bold", "labelColor": "#4b4f57",
    "labelLimit": 0, "padding": 0,
    "labelExpr": "datum.value === 'tasa' ? 'TASA POR 100,000 PERSONAS POR MES' : 'MEDIA MÓVIL TRIMESTRAL'"}},
  "strokeDash": {"field": "tipo", "type": "nominal",
   "scale": {"domain": ["tasa", "media"], "range": [[3.5, 4.5], [1, 0]]},
   "legend": {"title": null, "orient": "none", "legendX": 279, "legendY": 142, "direction": "vertical",
    "symbolType": "stroke", "symbolSize": 2025, "symbolStrokeWidth": 4, "clipHeight": 31, "rowPadding": 0,
    "labelOffset": 22, "labelFont": "Inter", "labelFontSize": 19.5, "labelFontWeight": "bold", "labelColor": "#4b4f57",
    "labelLimit": 0, "padding": 0,
    "labelExpr": "datum.value === 'tasa' ? 'TASA POR 100,000 PERSONAS POR MES' : 'MEDIA MÓVIL TRIMESTRAL'"}}}},
{"data": {"name": "datos"},
 "transform": [{"filter": "datum.tipo === 'media' && datum.serie !== 'Extorsión'"}],
 "mark": {"type": "line", "strokeWidth": 3.5, "strokeJoin": "round"},
 "encoding": {"color": {"field": "serie", "type": "nominal",
  "scale": {"domain": ["Narcomenudeo", "Delitos", "Secuestro"], "range": ["#ed1c24", "#00877a", "#2c4a5a"]}, "legend": null}}},
{"data": {"name": "datos"},
 "transform": [{"filter": "datum.tipo === 'media' && datum.serie === 'Extorsión'"}],
 "mark": {"type": "line", "strokeWidth": 3.5, "strokeJoin": "round", "color": "#f26c4f"},
 "encoding": {}},
{"data": {"name": "etiquetas"},
 "mark": {"type": "text", "align": "right", "baseline": "middle", "dx": 8, "dy": 2, "font": "Inter", "fontSize": 19.5, "fontWeight": "bold"},
 "encoding": {"text": {"field": "texto"},
  "color": {"field": "serie", "type": "nominal",
   "scale": {"domain": ["Narcomenudeo", "Extorsión", "Delitos", "Secuestro"], "range": ["#ed1c24", "#f26c4f", "#00877a", "#2c4a5a"]}, "legend": null}}}
],
"resolve": {"scale": {"color": "independent", "strokeDash": "independent"}}
}
